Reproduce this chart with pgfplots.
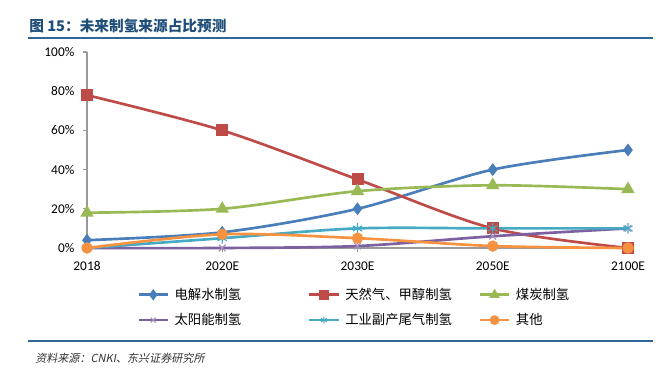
\documentclass[border=0pt]{standalone}
\usepackage{fontspec}
\setmainfont{Carlito}
\newfontfamily\cjk{Noto Sans CJK SC}
\newfontfamily\cjkit[FakeSlant=0.2]{Noto Sans CJK SC}
\usepackage{pgfplots}
\pgfplotsset{compat=1.18}
\definecolor{cBlue}{HTML}{4A7EBB}
\definecolor{cRed}{HTML}{BE4B48}
\definecolor{cGreen}{HTML}{98B954}
\definecolor{cPurple}{HTML}{7D60A0}
\definecolor{cCyan}{HTML}{46AAC5}
\definecolor{cOrange}{HTML}{F69240}
\definecolor{cTitle}{HTML}{1F4E79}
\definecolor{cRule}{HTML}{2F6599}
\begin{document}
\begin{tikzpicture}
\path[use as bounding box] (0,0) rectangle (498.75pt,276pt);
\node[anchor=west,inner sep=0pt,text=cTitle,font=\cjk\bfseries\fontsize{11}{13}\selectfont] at (21.75pt,256.5pt) {图 15：未来制氢来源占比预测};
\draw[cRule,line width=1.5pt] (21pt,247.5pt) -- (489.75pt,247.5pt);
\draw[cRule,line width=1.5pt] (21pt,20.25pt) -- (489.75pt,20.25pt);
\node[anchor=west,inner sep=0pt,text=black!80,font=\cjkit\fontsize{8.3}{10}\selectfont] at (26.25pt,7.5pt) {资料来源：CNKI、东兴证券研究所};
\begin{axis}[
  at={(65.25pt,90pt)}, anchor=south west,
  scale only axis, width=405.75pt, height=147pt,
  xmin=0, xmax=4, ymin=0, ymax=100,
  xtick={0,1,2,3,4},
  xticklabels={2018,2020E,2030E,2050E,2100E},
  ytick={0,20,40,60,80,100},
  yticklabel={\pgfmathprintnumber{\tick}\%},
  /pgf/number format/assume math mode=true,
  ticklabel style={font=\fontsize{10}{12}\selectfont},
  xticklabel style={yshift=-3.5pt},
  yticklabel style={xshift=-3pt},
  axis x line*=bottom, axis y line*=left,
  axis line style={draw=gray!80, line width=0.8pt},
  x axis line style={-}, y axis line style={-},
  tick style={draw=gray!80, line width=0.8pt},
  tick align=outside, major tick length=3pt,
  xtick pos=bottom, ytick pos=left,
  clip=false,
  every axis plot/.append style={line width=2pt, smooth, tension=0.5},
  legend columns=3,
  legend style={at={(0.0924,-0.19)}, anchor=north west, draw=none, fill=none,
    font=\cjk\fontsize{10}{12}\selectfont, row sep=5pt, inner sep=0pt,
    /tikz/every odd column/.append style={column sep=2pt}},
  legend cell align=left,
  legend image code/.code={\draw[mark repeat=2,mark phase=2,mark size=2.6pt] plot coordinates {(0pt,0pt)(11pt,0pt)(22pt,0pt)};},
]
\addplot[cBlue, mark=diamond*, mark size=3.2pt, mark options={solid,fill=cBlue}] coordinates {(0,4)(1,8)(2,20)(3,40)(4,50)};
\addlegendentry{\makebox[98pt][l]{电解水制氢}}
\addplot[cRed, mark=square*, mark size=3.5pt, mark options={solid,fill=cRed}] coordinates {(0,78)(1,60)(2,35)(3,10)(4,0)};
\addlegendentry{\makebox[98pt][l]{天然气、甲醇制氢}}
\addplot[cGreen, mark=triangle*, mark size=3.8pt, mark options={solid,fill=cGreen}] coordinates {(0,18)(1,20)(2,29)(3,32)(4,30)};
\addlegendentry{\makebox[98pt][l]{煤炭制氢}}
\addplot[cPurple, mark=x, mark size=3.5pt, mark options={solid,line width=0.8pt,draw=cPurple!70}] coordinates {(0,0)(1,0)(2,1)(3,6)(4,10)};
\addlegendentry{\makebox[98pt][l]{太阳能制氢}}
\addplot[cCyan, mark=asterisk, mark size=4pt, mark options={solid,line width=0.8pt}] coordinates {(0,0)(1,5)(2,10)(3,10)(4,10)};
\addlegendentry{\makebox[98pt][l]{工业副产尾气制氢}}
\addplot[cOrange, mark=*, mark size=3.2pt, mark options={solid,fill=cOrange}] coordinates {(0,0)(1,7)(2,5)(3,1)(4,0)};
\addlegendentry{\makebox[98pt][l]{其他}}
\end{axis}
\end{tikzpicture}
\end{document}
